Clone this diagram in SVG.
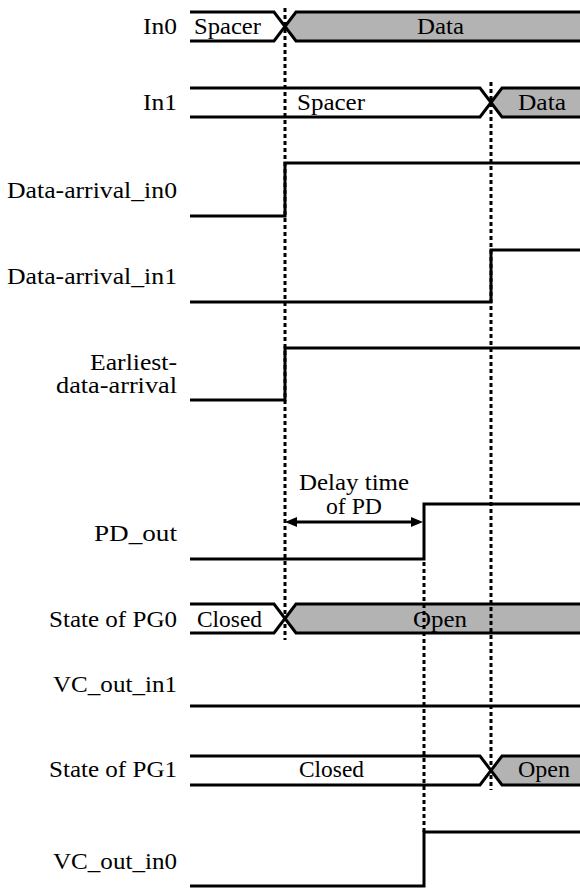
<svg xmlns="http://www.w3.org/2000/svg" width="580" height="889" viewBox="0 0 580 889">
<style>
text{font-family:'Liberation Serif','DejaVu Serif','Noto Serif',serif;font-size:23px;fill:#000}
.sig{fill:none;stroke:#000;stroke-width:3;stroke-linejoin:miter}
.fill{fill:#b3b3b3;stroke:none}
.dot{fill:none;stroke:#000;stroke-width:3;stroke-dasharray:4 3}
.arr{fill:none;stroke:#000;stroke-width:3}
</style>
<defs>
<marker id="ah" markerUnits="userSpaceOnUse" markerWidth="12" markerHeight="10" refX="7" refY="5" orient="auto-start-reverse">
<path d="M0,0 L12,5 L0,10 z" fill="#000"/>
</marker>
</defs>
<rect width="580" height="889" fill="#fff"/>

<g id="in0">
<text x="143" y="34" textLength="34" lengthAdjust="spacingAndGlyphs">In0</text>
<polygon class="fill" points="296,12 580,12 580,41 296,41 285,26.5"/>
<path class="sig" d="M190,12 H274 L296,41 H580 M190,41 H274 L296,12 H580"/>
<text x="194" y="34" textLength="67" lengthAdjust="spacingAndGlyphs">Spacer</text>
<text x="417" y="34" textLength="47" lengthAdjust="spacingAndGlyphs">Data</text>
</g>

<g id="in1">
<text x="143" y="110" textLength="34" lengthAdjust="spacingAndGlyphs">In1</text>
<polygon class="fill" points="502,88 580,88 580,117 502,117 491,102.5"/>
<path class="sig" d="M190,88 H480 L502,117 H580 M190,117 H480 L502,88 H580"/>
<text x="297" y="110" textLength="68" lengthAdjust="spacingAndGlyphs">Spacer</text>
<text x="518" y="110" textLength="48" lengthAdjust="spacingAndGlyphs">Data</text>
</g>

<g id="data-arrival-in0">
<text x="7" y="198" textLength="170" lengthAdjust="spacingAndGlyphs">Data-arrival_in0</text>
<path class="sig" d="M190,216 H285 V163 H580"/>
</g>

<g id="data-arrival-in1">
<text x="7" y="284" textLength="170" lengthAdjust="spacingAndGlyphs">Data-arrival_in1</text>
<path class="sig" d="M190,302 H491 V250 H580"/>
</g>

<g id="earliest-data-arrival">
<text x="90" y="370" textLength="87" lengthAdjust="spacingAndGlyphs">Earliest-</text>
<text x="56" y="393" textLength="121" lengthAdjust="spacingAndGlyphs">data-arrival</text>
<path class="sig" d="M190,400 H285 V348 H580"/>
</g>

<g id="pd-out">
<text x="94" y="541" textLength="83" lengthAdjust="spacingAndGlyphs">PD_out</text>
<path class="sig" d="M190,559 H424 V504 H580"/>
</g>

<g id="state-pg0">
<text x="49" y="627" textLength="128" lengthAdjust="spacingAndGlyphs">State of PG0</text>
<polygon class="fill" points="296,604 580,604 580,633 296,633 285,618.5"/>
<path class="sig" d="M190,604 H274 L296,633 H580 M190,633 H274 L296,604 H580"/>
<text x="197" y="627" textLength="65" lengthAdjust="spacingAndGlyphs">Closed</text>
<text x="413" y="627" textLength="54" lengthAdjust="spacingAndGlyphs">Open</text>
</g>

<g id="vc-out-in1">
<text x="53" y="692" textLength="124" lengthAdjust="spacingAndGlyphs">VC_out_in1</text>
<path class="sig" d="M190,706 H580"/>
</g>

<g id="state-pg1">
<text x="49" y="777" textLength="128" lengthAdjust="spacingAndGlyphs">State of PG1</text>
<polygon class="fill" points="502,756 580,756 580,785 502,785 491,770.5"/>
<path class="sig" d="M190,756 H480 L502,785 H580 M190,785 H480 L502,756 H580"/>
<text x="299" y="777" textLength="65" lengthAdjust="spacingAndGlyphs">Closed</text>
<text x="518" y="777" textLength="52" lengthAdjust="spacingAndGlyphs">Open</text>
</g>

<g id="vc-out-in0">
<text x="53" y="869" textLength="124" lengthAdjust="spacingAndGlyphs">VC_out_in0</text>
<path class="sig" d="M190,886 H424 V832 H580"/>
</g>

<g id="connectors">
<line class="dot" x1="285" y1="8" x2="285" y2="640"/>
<line class="dot" x1="491" y1="82" x2="491" y2="790"/>
<line class="dot" x1="424" y1="562" x2="424" y2="832"/>
<line class="arr" x1="290" y1="522" x2="418" y2="522" marker-start="url(#ah)" marker-end="url(#ah)"/>
<text x="299" y="490" textLength="110" lengthAdjust="spacingAndGlyphs">Delay time</text>
<text x="326" y="514" textLength="56" lengthAdjust="spacingAndGlyphs">of PD</text>
</g>
</svg>
